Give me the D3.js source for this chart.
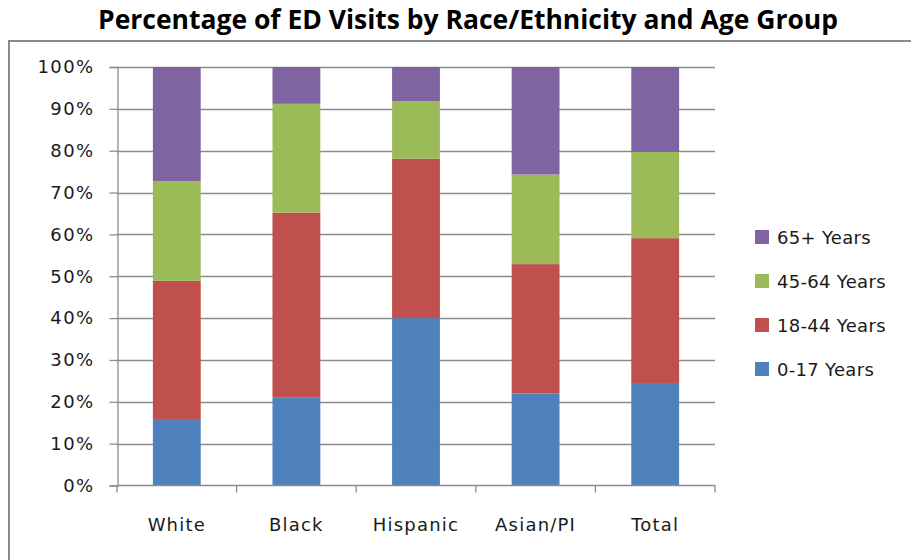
<!DOCTYPE html>
<html>
<head>
<meta charset="utf-8">
<script src="https://cdn.jsdelivr.net/npm/d3@7"></script>
<style>
  html, body { margin: 0; padding: 0; background: #fff; }
  svg { display: block; }
</style>
</head>
<body>
<svg id="chart" width="911" height="560"></svg>
<script>
// Share of ED visits (%) per race/ethnicity group, stacked by age group
const categories = ["White", "Black", "Hispanic", "Asian/PI", "Total"];
const ageGroups = ["0-17 Years", "18-44 Years", "45-64 Years", "65+ Years"];
const age0to17  = [15.9, 21.1, 40.0, 22.0, 24.5];
const age18to44 = [33.0, 44.1, 38.1, 30.9, 34.6];
const age45to64 = [23.8, 26.0, 13.7, 21.4, 20.6];
const age65plus = [27.3,  8.8,  8.2, 25.7, 20.3];
const yTicks = [0, 10, 20, 30, 40, 50, 60, 70, 80, 90, 100];
const colors = ["#4F81BD", "#C0504D", "#9BBB59", "#8064A2"];

const seriesValues = [age0to17, age18to44, age45to64, age65plus];
const rows = categories.map((c, i) => {
  const r = { category: c };
  ageGroups.forEach((g, k) => { r[g] = seriesValues[k][i]; });
  return r;
});

const svg = d3.select("#chart");
const font = "'DejaVu Sans', Verdana, sans-serif";

// Outer frame
svg.append("rect")
  .attr("x", 9).attr("y", 41)
  .attr("width", 930).attr("height", 560)
  .attr("fill", "none").attr("stroke", "#8a8a8a").attr("stroke-width", 2);

// Title
svg.append("text")
  .attr("x", 468).attr("y", 29)
  .attr("text-anchor", "middle")
  .attr("font-family", "'Open Sans', Lato, sans-serif")
  .attr("font-weight", "bold")
  .attr("font-size", 26)
  .attr("fill", "#000")
  .attr("textLength", 740)
  .attr("lengthAdjust", "spacingAndGlyphs")
  .text("Percentage of ED Visits by Race/Ethnicity and Age Group");

const plot = { left: 117, right: 715, top: 67, bottom: 485.5 };

const x = d3.scaleBand()
  .domain(categories)
  .range([plot.left, plot.right])
  .paddingInner(0.6)
  .paddingOuter(0.3);

const y = d3.scaleLinear()
  .domain([0, 100])
  .range([plot.bottom, plot.top]);

const gridColor = "#8c8c8c";

// Horizontal gridlines
svg.append("g")
  .selectAll("line")
  .data(yTicks.filter(t => t > 0))
  .join("line")
  .attr("x1", plot.left).attr("x2", plot.right)
  .attr("y1", d => Math.round(y(d)) + 0.5).attr("y2", d => Math.round(y(d)) + 0.5)
  .attr("stroke", gridColor).attr("stroke-width", 1.3);

// Stacked bars
const stack = d3.stack().keys(ageGroups);
const layers = stack(rows);

svg.append("g")
  .selectAll("g")
  .data(layers)
  .join("g")
  .attr("fill", (d, i) => colors[i])
  .selectAll("rect")
  .data(d => d)
  .join("rect")
  .attr("x", d => x(d.data.category))
  .attr("width", x.bandwidth())
  .attr("y", d => y(d[1]))
  .attr("height", d => y(d[0]) - y(d[1]));

// Y axis
const yAxis = d3.axisLeft(y)
  .tickValues(yTicks)
  .tickSize(8)
  .tickPadding(15)
  .tickFormat(d => d + "%");

const gy = svg.append("g")
  .attr("transform", `translate(${plot.left + 0.5},0)`)
  .call(yAxis);
gy.select(".domain").attr("stroke", gridColor).attr("stroke-width", 1.3);
gy.selectAll(".tick line").attr("stroke", gridColor).attr("stroke-width", 1.3);
gy.selectAll(".tick text")
  .attr("font-family", font).attr("font-size", 18)
  .attr("letter-spacing", 1.4)
  .attr("fill", "#1a1a1a");

// X axis: ticks at category boundaries
const boundaries = d3.range(categories.length + 1)
  .map(i => plot.left + i * x.step());

const gx = svg.append("g");
gx.append("line")
  .attr("x1", plot.left).attr("x2", plot.right)
  .attr("y1", plot.bottom).attr("y2", plot.bottom)
  .attr("stroke", gridColor).attr("stroke-width", 1.5);
gx.selectAll("line.tick")
  .data(boundaries)
  .join("line")
  .attr("class", "tick")
  .attr("x1", d => d).attr("x2", d => d)
  .attr("y1", plot.bottom).attr("y2", plot.bottom + 7)
  .attr("stroke", gridColor).attr("stroke-width", 1.3);
gx.selectAll("text")
  .data(categories)
  .join("text")
  .attr("x", d => x(d) + x.bandwidth() / 2)
  .attr("y", 531)
  .attr("text-anchor", "middle")
  .attr("font-family", font).attr("font-size", 18)
  .attr("letter-spacing", 1.2)
  .attr("fill", "#1a1a1a")
  .text(d => d);

// Legend (top to bottom: oldest to youngest)
const legendOrder = ageGroups.map((g, i) => ({ g, c: colors[i] })).reverse();
const legend = svg.append("g")
  .selectAll("g")
  .data(legendOrder)
  .join("g")
  .attr("transform", (d, i) => `translate(755, ${237 + i * 44})`);
legend.append("rect")
  .attr("x", 0).attr("y", -7)
  .attr("width", 14).attr("height", 14)
  .attr("fill", d => d.c);
legend.append("text")
  .attr("x", 22).attr("y", 7)
  .attr("font-family", font).attr("font-size", 18)
  .attr("letter-spacing", 0.3)
  .attr("fill", "#1a1a1a")
  .text(d => d.g);
</script>
</body>
</html>
